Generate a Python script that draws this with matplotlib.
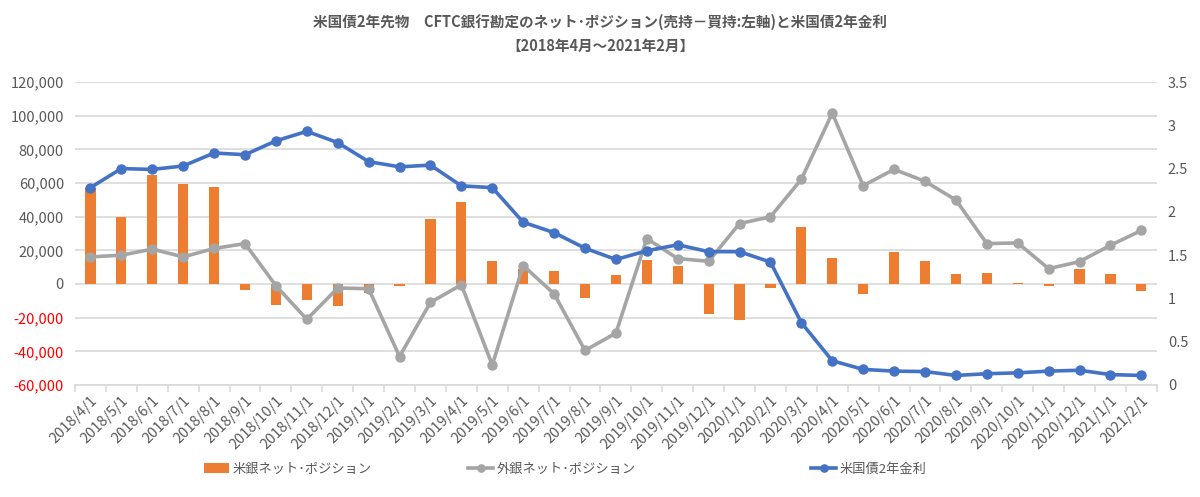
import matplotlib

matplotlib.use("Agg")
import matplotlib.pyplot as plt
from matplotlib.ticker import FuncFormatter, FixedLocator
import numpy as np

plt.rcParams["font.family"] = ["Noto Sans CJK JP", "DejaVu Sans"]

# months 2018/4/1 .. 2021/2/1
dates = [
    "2018/4/1", "2018/5/1", "2018/6/1", "2018/7/1", "2018/8/1", "2018/9/1",
    "2018/10/1", "2018/11/1", "2018/12/1", "2019/1/1", "2019/2/1", "2019/3/1",
    "2019/4/1", "2019/5/1", "2019/6/1", "2019/7/1", "2019/8/1", "2019/9/1",
    "2019/10/1", "2019/11/1", "2019/12/1", "2020/1/1", "2020/2/1", "2020/3/1",
    "2020/4/1", "2020/5/1", "2020/6/1", "2020/7/1", "2020/8/1", "2020/9/1",
    "2020/10/1", "2020/11/1", "2020/12/1", "2021/1/1", "2021/2/1",
]

us_banks = [
    57000, 40000, 65000, 59200, 57400, -3800, -12500, -9500, -13100, -5200,
    -1000, 38900, 48900, 13500, 8700, 7500, -8300, 5200, 14500, 10700,
    -17900, -21200, -2600, 34000, 15700, -5800, 19100, 13700, 5800, 6400,
    600, -1200, 9100, 5800, -4200,
]

foreign_banks = [
    16100, 17100, 20700, 16100, 21100, 24000, -1000, -21000, -2400, -2800,
    -43100, -10900, -500, -48100, 10900, -5800, -39500, -29200, 27000, 15100,
    13500, 35900, 39900, 62200, 101500, 58400, 68100, 61000, 49900, 24000,
    24400, 9100, 13300, 23000, 31800,
]

ust2y = [
    2.28, 2.50, 2.49, 2.53, 2.68, 2.66, 2.82, 2.93, 2.80, 2.58,
    2.52, 2.54, 2.30, 2.28, 1.88, 1.76, 1.58, 1.45, 1.55, 1.62,
    1.54, 1.54, 1.42, 0.72, 0.28, 0.18, 0.16, 0.155, 0.11, 0.13,
    0.14, 0.16, 0.17, 0.12, 0.11,
]

series_names = ["米銀ネット･ポジション", "外銀ネット･ポジション", "米国債2年金利"]

text_color = "#595959"
orange = "#ED7D31"
gray = "#A5A5A5"
blue = "#4472C4"

fig = plt.figure(figsize=(12, 4.97), dpi=100)
ax = fig.add_axes([0.0625, 0.2254, 0.9015, 0.6096])
ax2 = ax.twinx()

x = np.arange(len(dates))
bars = ax.bar(x, us_banks, width=0.33, color=orange, zorder=2)
(gray_line,) = ax.plot(x, foreign_banks, color=gray, lw=2.6, marker="o", ms=6.5, zorder=3)
(blue_line,) = ax2.plot(x, ust2y, color=blue, lw=2.6, marker="o", ms=6.5, zorder=3)

ax.set_xlim(-0.5, len(dates) - 0.5)
ax.set_ylim(-60000, 120000)
ax2.set_ylim(0, 3.5)
ax.set_yticks(np.arange(-60000, 120001, 20000))
ax2.set_yticks(np.arange(0, 3.51, 0.5))
ax.yaxis.set_major_formatter(FuncFormatter(lambda v, p: f"{int(v):,}"))
ax2.yaxis.set_major_formatter(FuncFormatter(lambda v, p: f"{v:g}"))

ax.grid(axis="y", color="#D9D9D9", lw=1.2, zorder=0)
ax.set_axisbelow(True)
for a in (ax, ax2):
    for s in a.spines.values():
        s.set_visible(False)
ax.spines["bottom"].set_visible(True)
ax.spines["bottom"].set_color("#D9D9D9")
ax.spines["bottom"].set_linewidth(1.2)

ax.set_xticks(x)
ax.set_xticklabels(dates, rotation=45, ha="right", rotation_mode="anchor",
                   fontsize=10.5, color=text_color)
ax.tick_params(axis="x", which="major", length=0, pad=6)
ax.xaxis.set_minor_locator(FixedLocator(np.arange(-0.5, len(dates), 1.0)))
ax.tick_params(axis="x", which="minor", length=5, color="#D9D9D9", width=1.2)
ax.tick_params(axis="y", length=0, labelsize=10.5, labelcolor=text_color, pad=8)
ax2.tick_params(axis="y", length=0, labelsize=10.5, labelcolor=text_color, pad=8)
for t, v in zip(ax.get_yticklabels(), ax.get_yticks()):
    if v < 0:
        t.set_color("#FF0000")

fig.text(0.5, 0.955, "米国債2年先物　CFTC銀行勘定のネット･ポジション(売持－買持:左軸)と米国債2年金利",
         ha="center", va="center", fontsize=10.5, fontweight="bold", color=text_color)
fig.text(0.5, 0.908, "【2018年4月～2021年2月】",
         ha="center", va="center", fontsize=10.5, fontweight="bold", color=text_color)

handles = [bars, gray_line, blue_line]
lefts = [204, 468, 811]
for h, lab, lx in zip(handles, series_names, lefts):
    fig.legend([h], [lab], loc="center left", bbox_to_anchor=(lx / 1200, 1 - 469 / 497),
               frameon=False, borderpad=0, borderaxespad=0, handlelength=1.9,
               handletextpad=0.3, markerscale=0.8, fontsize=9.5, labelcolor=text_color)

fig.savefig("out.png", dpi=100)
